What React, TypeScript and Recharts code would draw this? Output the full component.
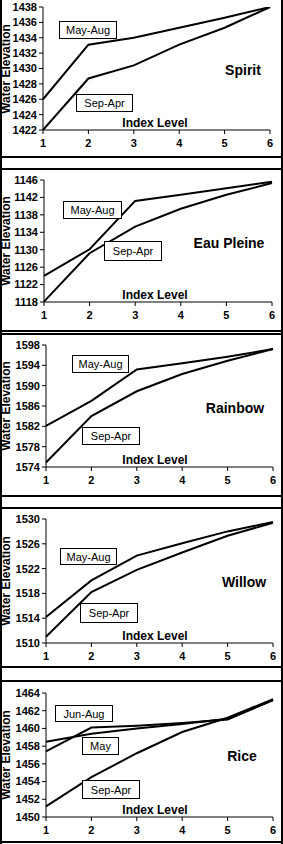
import React from 'react';
import { LineChart, Line, XAxis, YAxis } from 'recharts';

const indexLevels = [1, 2, 3, 4, 5, 6];

const spiritMayAug = [1426, 1433.1, 1434, 1435.3, 1436.6, 1438];
const spiritSepApr = [1422, 1428.7, 1430.4, 1433.1, 1435.3, 1438];
const spiritTicks = [1422, 1424, 1426, 1428, 1430, 1432, 1434, 1436, 1438];

const eauMayAug = [1124, 1130.1, 1141.2, 1142.6, 1144.1, 1145.6];
const eauSepApr = [1118.1, 1129.2, 1135.3, 1139.4, 1142.6, 1145.3];
const eauTicks = [1118, 1122, 1126, 1130, 1134, 1138, 1142, 1146];

const rainbowMayAug = [1582.1, 1587, 1593.2, 1594.4, 1595.7, 1597.2];
const rainbowSepApr = [1574.9, 1584, 1588.9, 1592.3, 1594.9, 1597.2];
const rainbowTicks = [1574, 1578, 1582, 1586, 1590, 1594, 1598];

const willowMayAug = [1514.2, 1520.1, 1524.1, 1526.1, 1528, 1529.5];
const willowSepApr = [1511, 1518.2, 1521.8, 1524.6, 1527.3, 1529.4];
const willowTicks = [1510, 1514, 1518, 1522, 1526, 1530];

const riceJunAug = [1457.4, 1460.1, 1460.3, 1460.6, 1461, 1463.2];
const riceMay = [1458.5, 1459.4, 1460, 1460.5, 1461.1, 1463.2];
const riceSepApr = [1451.2, 1454.5, 1457.2, 1459.6, 1461.2, 1463.3];
const riceTicks = [1450, 1452, 1454, 1456, 1458, 1460, 1462, 1464];

const FONT = '"Liberation Sans", Arial, sans-serif';

interface INote {
  text: string;
  x: number;
  y: number;
  w: number;
  h: number;
}

interface IPanel {
  top: number;
  plotH: number;
  left: number;
  right: number;
  ticks: number[];
  series: number[][];
  notes: INote[];
  title: string;
  titleX: number;
}

const Panel: React.FC<IPanel> = ({ top, plotH, left, right, ticks, series, notes, title, titleX }) => {
  const data = indexLevels.map((x, i) => {
    const row: any = { x };
    series.forEach((s, k) => (row['s' + k] = s[i]));
    return row;
  });
  const tickStyle = { fill: '#000', fontSize: 11, fontWeight: 'bold', fontFamily: FONT };
  return (
    <>
      <div style={{ position: 'absolute', left: 0, top: top - 5 }}>
        <LineChart
          width={283}
          height={plotH + 5 + 24}
          data={data}
          margin={{ top: 5, right: 283 - right, bottom: 0, left: 0 }}
        >
          <XAxis
            type="number"
            dataKey="x"
            domain={[1, 6]}
            ticks={indexLevels}
            height={24}
            tickSize={4}
            tickMargin={5}
            stroke="#000"
            tick={tickStyle}
          />
          <YAxis
            domain={[ticks[0], ticks[ticks.length - 1]]}
            ticks={ticks}
            width={left}
            tickSize={4}
            tickMargin={2}
            stroke="#000"
            tick={tickStyle}
            interval={0}
            allowDataOverflow
          />
          {series.map((_, k) => (
            <Line
              key={k}
              type="linear"
              dataKey={'s' + k}
              stroke="#000"
              strokeWidth={2}
              dot={false}
              isAnimationActive={false}
            />
          ))}
        </LineChart>
      </div>
      {/* axis titles */}
      <div
        style={{
          position: 'absolute',
          left: 6,
          top: top + plotH / 2,
          transform: 'translate(-50%, -50%) rotate(-90deg)',
          whiteSpace: 'nowrap',
          fontFamily: FONT,
          fontWeight: 'bold',
          fontSize: 12,
        }}
      >
        Water Elevation
      </div>
      <div
        style={{
          position: 'absolute',
          left: 155,
          top: top + plotH - 7,
          transform: 'translate(-50%, -50%)',
          whiteSpace: 'nowrap',
          fontFamily: FONT,
          fontWeight: 'bold',
          fontSize: 12,
        }}
      >
        Index Level
      </div>
      <div
        style={{
          position: 'absolute',
          left: titleX,
          top: top + 63,
          transform: 'translate(-50%, -50%)',
          whiteSpace: 'nowrap',
          fontFamily: FONT,
          fontWeight: 'bold',
          fontSize: 14,
        }}
      >
        {title}
      </div>
      {notes.map((n, i) => (
        <div
          key={i}
          style={{
            position: 'absolute',
            left: n.x,
            top: n.y,
            width: n.w,
            height: n.h,
            boxSizing: 'border-box',
            border: '1px solid #000',
            background: '#fff',
            display: 'flex',
            alignItems: 'center',
            justifyContent: 'center',
            fontFamily: FONT,
            fontSize: 11,
          }}
        >
          {n.text}
        </div>
      ))}
    </>
  );
};

const hLines = [157, 169, 331, 334, 496, 508, 667, 681, 842];

const App: React.FC = () => {
  return (
    <div
      style={{
        position: 'absolute',
        left: 0,
        top: 0,
        width: 283,
        height: 844,
        background: '#fff',
        overflow: 'hidden',
      }}
    >
      <Panel
        top={7}
        plotH={123}
        left={43}
        right={270}
        ticks={spiritTicks}
        series={[spiritMayAug, spiritSepApr]}
        notes={[
          { text: 'May-Aug', x: 59, y: 21, w: 58, h: 18 },
          { text: 'Sep-Apr', x: 76, y: 94, w: 57, h: 18 },
        ]}
        title="Spirit"
        titleX={243}
      />
      <Panel
        top={180}
        plotH={122}
        left={44}
        right={272}
        ticks={eauTicks}
        series={[eauMayAug, eauSepApr]}
        notes={[
          { text: 'May-Aug', x: 63, y: 201, w: 59, h: 18 },
          { text: 'Sep-Apr', x: 104, y: 241, w: 58, h: 20 },
        ]}
        title="Eau Pleine"
        titleX={229}
      />
      <Panel
        top={345}
        plotH={122}
        left={46}
        right={273}
        ticks={rainbowTicks}
        series={[rainbowMayAug, rainbowSepApr]}
        notes={[
          { text: 'May-Aug', x: 72, y: 355, w: 57, h: 18 },
          { text: 'Sep-Apr', x: 82, y: 427, w: 58, h: 18 },
        ]}
        title="Rainbow"
        titleX={235}
      />
      <Panel
        top={519}
        plotH={124}
        left={46}
        right={273}
        ticks={willowTicks}
        series={[willowMayAug, willowSepApr]}
        notes={[
          { text: 'May-Aug', x: 60, y: 548, w: 57, h: 17 },
          { text: 'Sep-Apr', x: 80, y: 603, w: 58, h: 20 },
        ]}
        title="Willow"
        titleX={244}
      />
      <Panel
        top={693}
        plotH={124}
        left={46}
        right={273}
        ticks={riceTicks}
        series={[riceJunAug, riceMay, riceSepApr]}
        notes={[
          { text: 'Jun-Aug', x: 55, y: 705, w: 58, h: 17 },
          { text: 'May', x: 82, y: 737, w: 37, h: 18 },
          { text: 'Sep-Apr', x: 82, y: 780, w: 58, h: 19 },
        ]}
        title="Rice"
        titleX={242}
      />
      {hLines.map((y) => (
        <div
          key={y}
          style={{ position: 'absolute', left: 0, top: y - 1, width: 283, height: 2, background: '#000' }}
        />
      ))}
      <div style={{ position: 'absolute', left: 0, top: 0, width: 2, height: 844, background: '#000' }} />
      <div style={{ position: 'absolute', left: 281, top: 0, width: 2, height: 844, background: '#000' }} />
    </div>
  );
};

export default App;
